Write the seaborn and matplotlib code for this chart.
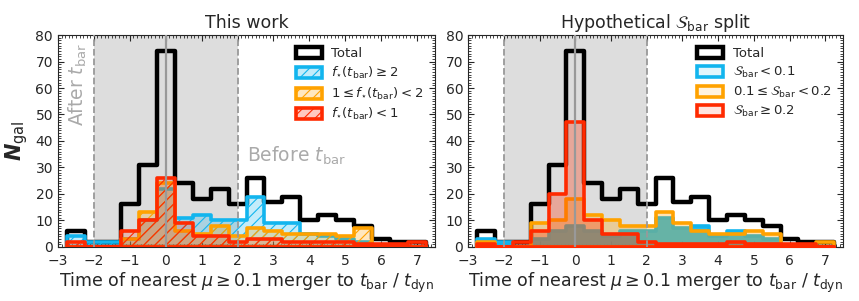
import numpy as np
import pandas as pd
import seaborn as sns
import matplotlib.pyplot as plt
from matplotlib.ticker import MultipleLocator
from matplotlib.colors import to_rgba
from matplotlib.patches import Patch

# Bin centres / edges (width 0.5 t_dyn)
bin_centers = [-2.5, -2.0, -1.5, -1.0, -0.5, 0.0, 0.5, 1.0, 1.5, 2.0,
               2.5, 3.0, 3.5, 4.0, 4.5, 5.0, 5.5, 6.0, 6.5, 7.0]
bin_edges = [-2.75, -2.25, -1.75, -1.25, -0.75, -0.25, 0.25, 0.75, 1.25, 1.75,
             2.25, 2.75, 3.25, 3.75, 4.25, 4.75, 5.25, 5.75, 6.25, 6.75, 7.25]

# Counts per bin
n_total = [6, 2, 2, 16, 31, 74, 24, 18, 22, 16, 26, 17, 19, 10, 12, 10, 8, 3, 2, 2]

# left panel: split by f*(t_bar)
n_f_high = [4, 2, 2, 3, 10, 22, 11, 12, 10, 10, 19, 9, 9, 5, 4, 3, 2, 0, 0, 0]
n_f_mid = [0, 0, 0, 3, 13, 24, 6, 5, 8, 4, 7, 6, 5, 5, 5, 4, 7, 0, 0, 0]
n_f_low = [2, 0, 0, 6, 10, 26, 9, 4, 4, 2, 3, 3, 2, 2, 2, 2, 1, 1, 1, 2]

# right panel: split by S_bar
n_s_low = [3, 2, 0, 3, 6, 8, 6, 4, 6, 6, 11, 7, 8, 4, 6, 4, 3, 0, 0, 0]
n_s_mid = [2, 0, 0, 9, 10, 18, 12, 10, 8, 8, 13, 9, 6, 5, 5, 6, 5, 0, 0, 2]
n_s_high = [1, 0, 2, 6, 20, 47, 10, 5, 5, 2, 1, 1, 1, 1, 2, 1, 1, 1, 1, 0]

c_blue = '#12b5ee'
c_orange = '#ffa200'
c_red = '#ff2a00'

sns.set_style('ticks')
plt.rcParams['font.family'] = ['DejaVu Sans']
plt.rcParams['mathtext.fontset'] = 'dejavusans'
plt.rcParams['hatch.linewidth'] = 0.8

fig = plt.figure(figsize=(8.59, 3.01), dpi=100)
ax1 = fig.add_axes([0.0675, 0.18, 0.439, 0.7035])
ax2 = fig.add_axes([0.545, 0.18, 0.4365, 0.7035])


def hist(ax, counts, color, alpha, hatch=None, lw=2.6, z=3):
    df = pd.DataFrame({'t': bin_centers, 'n': counts})
    fc = 'none' if alpha == 0 else to_rgba(color, alpha)
    sns.histplot(data=df, x='t', weights='n', bins=bin_edges, element='step',
                 fill=True, color=color, facecolor=fc, edgecolor=color,
                 linewidth=lw, hatch=hatch, ax=ax, zorder=z)


def decorate(ax, title, labels, hatch, face_alpha):
    ax.axvspan(-2, 2, color='#dddddd', zorder=0, lw=0)
    ax.axvline(-2, color='#999999', ls='--', lw=1.3, zorder=6)
    ax.axvline(2, color='#999999', ls='--', lw=1.3, zorder=6)
    ax.axvline(0, color='#999999', ls='-', lw=1.6, zorder=6)
    ax.set_xlim(-3, 7.5)
    ax.set_ylim(0, 80)
    ax.xaxis.set_major_locator(MultipleLocator(1))
    ax.xaxis.set_minor_locator(MultipleLocator(0.1))
    ax.yaxis.set_major_locator(MultipleLocator(10))
    ax.yaxis.set_minor_locator(MultipleLocator(1))
    ax.tick_params(which='both', direction='in', top=True, right=True, labelsize=10)
    ax.tick_params(which='major', length=4, width=0.8)
    ax.tick_params(which='minor', length=2, width=0.6)
    ax.tick_params(axis='x', pad=5)
    ax.set_title(title, fontsize=12.5, pad=5)
    ax.set_xlabel(r'Time of nearest $\mu \geq 0.1$ merger to $t_{\rm bar}$ / $t_{\rm dyn}$',
                  fontsize=12.5, labelpad=2)
    ax.set_ylabel('')
    colors = ['black', c_blue, c_orange, c_red]
    handles = [Patch(facecolor='white', edgecolor='black', linewidth=3.2)]
    for c in colors[1:]:
        handles.append(Patch(facecolor=to_rgba(c, face_alpha), edgecolor=c,
                             linewidth=2.6, hatch=hatch))
    ax.legend(handles, labels, loc='upper right', bbox_to_anchor=(0.99, 0.98),
              frameon=False, fontsize=9.5, handlelength=2.0, handleheight=0.9,
              labelspacing=0.35, handletextpad=0.7, borderaxespad=0.2)


# Left panel
hist(ax1, n_total, 'black', 0, lw=3.2, z=2)
hist(ax1, n_f_high, c_blue, 0.25, hatch='///')
hist(ax1, n_f_mid, c_orange, 0.25, hatch='///', z=4)
hist(ax1, n_f_low, c_red, 0.2, hatch='///', z=5)
decorate(ax1, 'This work',
         ['Total', r'$f_{\star}(t_{\rm bar}) \geq 2$',
          r'$1 \leq f_{\star}(t_{\rm bar}) < 2$', r'$f_{\star}(t_{\rm bar}) < 1$'],
         '///', 0.25)
ax1.set_ylabel(r'$\mathbfit{N}_{\rm gal}$', fontsize=15, labelpad=4)
ax1.text(-2.45, 77, r'After $t_{\rm bar}$', rotation=90, ha='center', va='top',
         color='#aaaaaa', fontsize=13.5)
ax1.text(2.25, 34.5, r'Before $t_{\rm bar}$', ha='left', va='center',
         color='#aaaaaa', fontsize=13.5)

# Right panel
hist(ax2, n_total, 'black', 0, lw=3.2, z=2)
hist(ax2, n_s_low, c_blue, 0.92)
hist(ax2, n_s_mid, c_orange, 0.3, z=4)
hist(ax2, n_s_high, c_red, 0.3, z=5)
decorate(ax2, r'Hypothetical $\mathcal{S}_{\rm bar}$ split',
         ['Total', r'$\mathcal{S}_{\rm bar} < 0.1$',
          r'$0.1 \leq \mathcal{S}_{\rm bar} < 0.2$', r'$\mathcal{S}_{\rm bar} \geq 0.2$'],
         None, 0.12)

fig.savefig('out.png', dpi=100)
